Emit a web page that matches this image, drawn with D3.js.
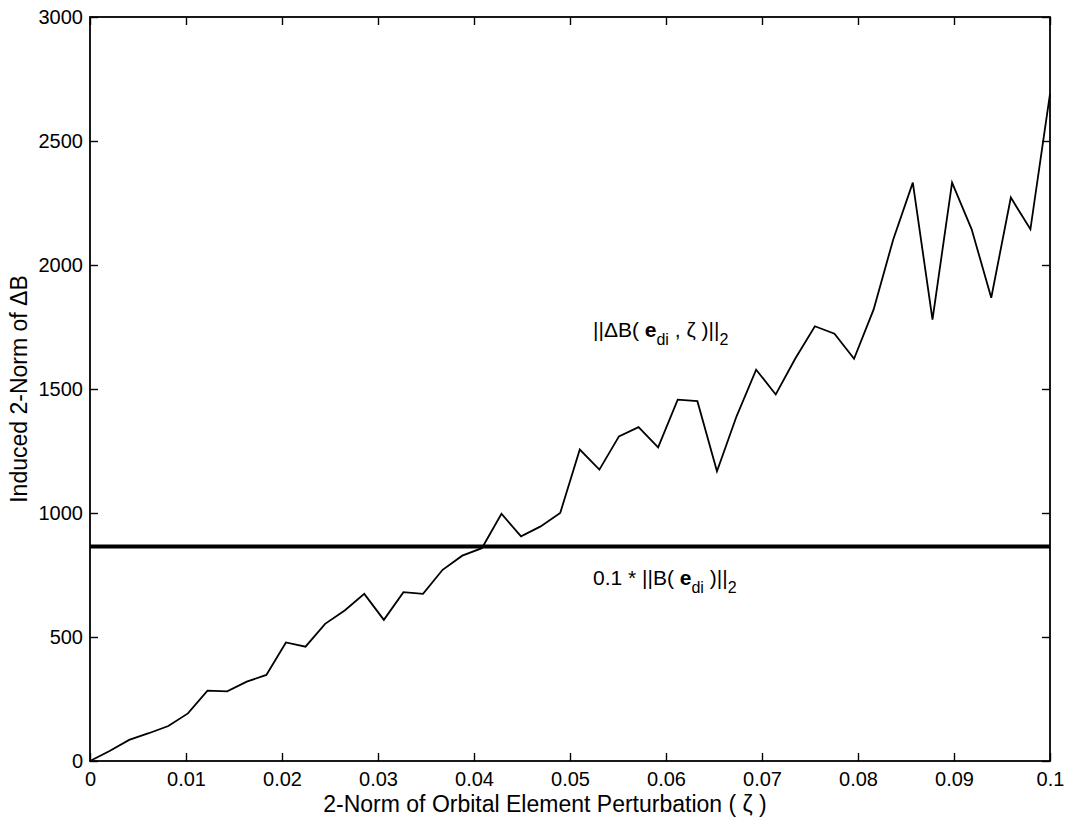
<!DOCTYPE html>
<html>
<head>
<meta charset="utf-8">
<script src="https://cdn.jsdelivr.net/npm/d3@7"></script>
<style>
  body { margin: 0; background: #fff; }
  svg { font-family: "Liberation Sans", Arial, Helvetica, sans-serif; }
  .axis path { display: none; }
  .axis line { stroke: #000; stroke-width: 1.4; }
  .axis text { fill: #000; font-size: 20px; }
</style>
</head>
<body>
<div id="vis"></div>
<script>
// frame constants
const FRAME_WIDTH = 1066;
const FRAME_HEIGHT = 820;
const MARGINS = {left: 90, right: 16, top: 17, bottom: 59};
const VIS_WIDTH = FRAME_WIDTH - MARGINS.left - MARGINS.right;
const VIS_HEIGHT = FRAME_HEIGHT - MARGINS.top - MARGINS.bottom;

// data
const zeta = [0, 0.00204, 0.00408, 0.00612, 0.00816, 0.01020, 0.01224, 0.01429, 0.01633, 0.01837,
  0.02041, 0.02245, 0.02449, 0.02653, 0.02857, 0.03061, 0.03265, 0.03469, 0.03673, 0.03878,
  0.04082, 0.04286, 0.04490, 0.04694, 0.04898, 0.05102, 0.05306, 0.05510, 0.05714, 0.05918,
  0.06122, 0.06327, 0.06531, 0.06735, 0.06939, 0.07143, 0.07347, 0.07551, 0.07755, 0.07959,
  0.08163, 0.08367, 0.08571, 0.08776, 0.08980, 0.09184, 0.09388, 0.09592, 0.09796, 0.1];
const deltaBNorm = [0, 40, 85, 112, 141, 192, 284, 281, 320, 347,
  478, 461, 553, 607, 674, 569, 681, 674, 771, 828,
  858, 997, 906, 946, 1000, 1256, 1175, 1309, 1346, 1265,
  1457, 1451, 1168, 1390, 1578, 1478, 1623, 1753, 1723, 1622,
  1821, 2103, 2332, 1780, 2332, 2144, 1868, 2272, 2144, 2690];
const thresholdValue = 865;   // 0.1 * ||B(e_di)||_2
const xTicks = [0, 0.01, 0.02, 0.03, 0.04, 0.05, 0.06, 0.07, 0.08, 0.09, 0.1];
const yTicks = [0, 500, 1000, 1500, 2000, 2500, 3000];

const FRAME = d3.select("#vis")
  .append("svg")
  .attr("width", FRAME_WIDTH)
  .attr("height", FRAME_HEIGHT);

const X_SCALE = d3.scaleLinear().domain([0, 0.1]).range([0, VIS_WIDTH]);
const Y_SCALE = d3.scaleLinear().domain([0, 3000]).range([VIS_HEIGHT, 0]);

const G = FRAME.append("g")
  .attr("transform", "translate(" + MARGINS.left + "," + MARGINS.top + ")");

// bottom axis with labels, ticks pointing inward
G.append("g")
  .attr("class", "axis")
  .attr("transform", "translate(0," + VIS_HEIGHT + ")")
  .call(d3.axisBottom(X_SCALE).tickValues(xTicks).tickSizeInner(-8).tickSizeOuter(0)
    .tickPadding(11).tickFormat(d3.format("")));

// top axis, ticks only
G.append("g")
  .attr("class", "axis")
  .call(d3.axisTop(X_SCALE).tickValues(xTicks).tickSizeInner(-8).tickSizeOuter(0).tickFormat(""));

// left axis with labels
G.append("g")
  .attr("class", "axis")
  .call(d3.axisLeft(Y_SCALE).tickValues(yTicks).tickSizeInner(-8).tickSizeOuter(0)
    .tickPadding(7).tickFormat(d3.format("d")));

// right axis, ticks only
G.append("g")
  .attr("class", "axis")
  .attr("transform", "translate(" + VIS_WIDTH + ",0)")
  .call(d3.axisRight(Y_SCALE).tickValues(yTicks).tickSizeInner(-8).tickSizeOuter(0).tickFormat(""));

// plot box
G.append("rect")
  .attr("width", VIS_WIDTH)
  .attr("height", VIS_HEIGHT)
  .attr("fill", "none")
  .attr("stroke", "#000")
  .attr("stroke-width", 1.8);

// threshold line
G.append("line")
  .attr("x1", X_SCALE(0))
  .attr("x2", X_SCALE(0.1))
  .attr("y1", Y_SCALE(thresholdValue))
  .attr("y2", Y_SCALE(thresholdValue))
  .attr("stroke", "#000")
  .attr("stroke-width", 4);

// the norm curve
const line = d3.line()
  .x((d, i) => X_SCALE(zeta[i]))
  .y(d => Y_SCALE(d));

G.append("path")
  .datum(deltaBNorm)
  .attr("d", line)
  .attr("fill", "none")
  .attr("stroke", "#000")
  .attr("stroke-width", 1.8)
  .attr("stroke-linejoin", "miter");

// curve label: ||ΔB( e_di , ζ )||_2
const lab1 = FRAME.append("text")
  .attr("x", 593)
  .attr("y", 337)
  .attr("font-size", "21px");
lab1.append("tspan").text("||ΔB( ");
lab1.append("tspan").attr("font-weight", "bold").text("e");
lab1.append("tspan").attr("font-size", "16px").attr("dy", 8).text("di");
lab1.append("tspan").attr("dy", -8).text("  ,  ζ  )||");
lab1.append("tspan").attr("font-size", "16px").attr("dy", 8).text("2");

// threshold label: 0.1 * ||B( e_di )||_2
const lab2 = FRAME.append("text")
  .attr("x", 593)
  .attr("y", 585)
  .attr("font-size", "21px");
lab2.append("tspan").text("0.1 * ||B( ");
lab2.append("tspan").attr("font-weight", "bold").text("e");
lab2.append("tspan").attr("font-size", "16px").attr("dy", 8).text("di");
lab2.append("tspan").attr("dy", -8).text(" )||");
lab2.append("tspan").attr("font-size", "16px").attr("dy", 8).text("2");

// x axis title
FRAME.append("text")
  .attr("text-anchor", "middle")
  .attr("x", 545)
  .attr("y", 812)
  .attr("font-size", "23px")
  .text("2-Norm of Orbital Element Perturbation ( ζ )");

// y axis title
FRAME.append("text")
  .attr("text-anchor", "middle")
  .attr("transform", "translate(27," + (MARGINS.top + VIS_HEIGHT / 2) + ") rotate(-90)")
  .attr("font-size", "23px")
  .text("Induced 2-Norm of ΔB");
</script>
</body>
</html>
